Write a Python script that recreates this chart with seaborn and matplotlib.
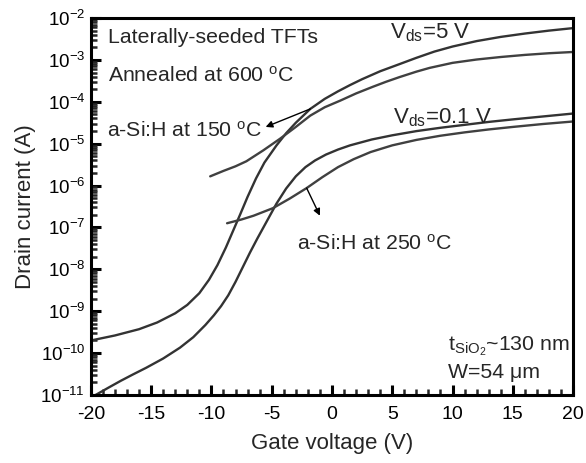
import numpy as np
import pandas as pd
import matplotlib
matplotlib.use("Agg")
import matplotlib.pyplot as plt
import seaborn as sns
from matplotlib.ticker import MultipleLocator, LogLocator, NullFormatter

# ---- data (gate voltage in V, drain current as log10(A)) ----
c1_vg = [-20, -18, -16, -14.5, -13, -12, -11, -10.2, -9.5, -8.8, -8.2, -7.6, -7.0, -6.3, -5.6, -4.6,
         -3.8, -3.0, -1.8, -0.6, 0.5, 1.5, 2.5, 4.0, 5.6, 7, 8.5, 10, 12, 14, 16, 18, 20]
c1_log = [-9.7, -9.58, -9.43, -9.27, -9.05, -8.85, -8.57, -8.25, -7.9, -7.48, -7.08, -6.68, -6.27, -5.83,
          -5.45, -5.04, -4.75, -4.5, -4.17, -3.93, -3.75, -3.6, -3.46, -3.27, -3.1, -2.95, -2.8, -2.68,
          -2.55, -2.45, -2.37, -2.3, -2.24]

c2_vg = [-19.6, -18.5, -17.5, -16.5, -15.4, -14, -12.6, -11.5, -10.5, -9.8, -9.2, -8.6, -8.0, -7.4,
         -6.8, -6.2, -5.4, -4.6, -3.8, -3.0, -2.2, -1.4, -0.5, 0.5, 1.5, 3.3, 5, 7, 9, 11, 13, 15, 17.5, 20]
c2_log = [-11.0, -10.82, -10.66, -10.51, -10.35, -10.13, -9.87, -9.62, -9.33, -9.1, -8.88, -8.62, -8.3,
          -7.95, -7.6, -7.27, -6.85, -6.43, -6.07, -5.78, -5.56, -5.4, -5.26, -5.14, -5.04, -4.9, -4.8,
          -4.7, -4.62, -4.55, -4.48, -4.42, -4.35, -4.28]

c3_vg = [-10.1, -9, -8, -7.1, -5.7, -4.3, -3, -1.8, -0.6, 0.7, 2, 3.4, 4.5, 5.6, 7, 8.1, 10, 12, 14,
         16, 18, 20]
c3_log = [-5.78, -5.65, -5.54, -5.42, -5.16, -4.88, -4.6, -4.33, -4.13, -3.97, -3.8, -3.64, -3.52, -3.41,
          -3.28, -3.19, -3.07, -2.99, -2.93, -2.88, -2.84, -2.81]

c4_vg = [-8.7, -7.5, -6.5, -4.9, -3.5, -2.1, -0.8, 0.5, 1.8, 3.2, 5, 7, 9, 11, 13, 15, 17.5, 20]
c4_log = [-6.9, -6.81, -6.72, -6.54, -6.31, -6.06, -5.8, -5.56, -5.37, -5.2, -5.04, -4.91, -4.81, -4.73,
          -4.66, -4.6, -4.53, -4.47]

x_ticks = [-20, -15, -10, -5, 0, 5, 10, 15, 20]

frames = []
for name, vg, lg in [("c1", c1_vg, c1_log), ("c2", c2_vg, c2_log),
                     ("c3", c3_vg, c3_log), ("c4", c4_vg, c4_log)]:
    frames.append(pd.DataFrame({"curve": name, "vg": vg, "id": np.power(10.0, lg)}))
df = pd.concat(frames, ignore_index=True)

sns.set_style("ticks")
plt.rcParams["font.family"] = ["Liberation Sans", "DejaVu Sans"]
plt.rcParams["mathtext.fontset"] = "custom"
plt.rcParams["mathtext.rm"] = "Liberation Sans"
plt.rcParams["mathtext.it"] = "Liberation Sans:italic"
plt.rcParams["mathtext.default"] = "regular"

fig = plt.figure(figsize=(5.86, 4.63), dpi=100)
ax = fig.add_axes([0.155, 0.147, 0.823, 0.814])

sns.lineplot(data=df, x="vg", y="id", hue="curve", units="curve", estimator=None,
             palette={"c1": "#333333", "c2": "#333333", "c3": "#404040", "c4": "#404040"},
             linewidth=1.7, legend=False, sort=False, ax=ax)

ax.set_yscale("log")
ax.set_xlim(-20, 20)
ax.set_ylim(1e-11, 1e-2)
ax.set_xticks(x_ticks)
ax.set_xticklabels([str(t) for t in x_ticks])
ax.xaxis.set_minor_locator(MultipleLocator(1))
ax.yaxis.set_major_locator(LogLocator(base=10, numticks=20))
ax.yaxis.set_minor_locator(LogLocator(base=10, subs=np.arange(2, 10), numticks=20))
ax.yaxis.set_minor_formatter(NullFormatter())

ax.tick_params(axis="both", which="major", direction="in", length=7, width=2.2,
               labelsize=14, top=False, right=False, colors="black")
ax.tick_params(axis="both", which="minor", direction="in", length=4, width=1.8,
               top=False, right=False)
ax.tick_params(axis="x", pad=8)
ax.tick_params(axis="y", pad=4, labelsize=13.5)
for s in ax.spines.values():
    s.set_linewidth(2.2)
    s.set_color("black")

ax.set_xlabel("Gate voltage (V)", fontsize=16, labelpad=7)
ax.set_ylabel("Drain current (A)", fontsize=16, labelpad=3)

fs = 15.3
tr = ax.transAxes
ax.text(0.035, 0.934, "Laterally-seeded TFTs", transform=tr, fontsize=fs, va="baseline")
ax.text(0.035, 0.830, "Annealed at 600 $^{\\mathrm{o}}$C", transform=tr, fontsize=fs, va="baseline")
ax.text(0.034, 0.684, "a-Si:H at 150 $^{\\mathrm{o}}$C", transform=tr, fontsize=fs, va="baseline")
ax.text(0.427, 0.385, "a-Si:H at 250 $^{\\mathrm{o}}$C", transform=tr, fontsize=fs, va="baseline")
ax.text(0.62, 0.947, "V$_{\\mathrm{ds}}$=5 V", transform=tr, fontsize=16, va="baseline")
ax.text(0.626, 0.721, "V$_{\\mathrm{ds}}$=0.1 V", transform=tr, fontsize=16, va="baseline")
ax.text(0.74, 0.119, "t$_{\\mathrm{SiO_2}}$~130 nm", transform=tr, fontsize=fs, va="baseline")
ax.text(0.74, 0.045, "W=54 μm", transform=tr, fontsize=fs, va="baseline")

ax.annotate("", xy=(-5.5, 10 ** -4.6), xytext=(-1.8, 10 ** -4.17),
            arrowprops=dict(arrowstyle="-|>", color="black", lw=1.0,
                            mutation_scale=10, shrinkA=0, shrinkB=0))
ax.annotate("", xy=(-1.0, 10 ** -6.72), xytext=(-2.1, 10 ** -6.06),
            arrowprops=dict(arrowstyle="-|>", color="black", lw=1.0,
                            mutation_scale=10, shrinkA=0, shrinkB=0))

fig.savefig("out.png", dpi=100)
